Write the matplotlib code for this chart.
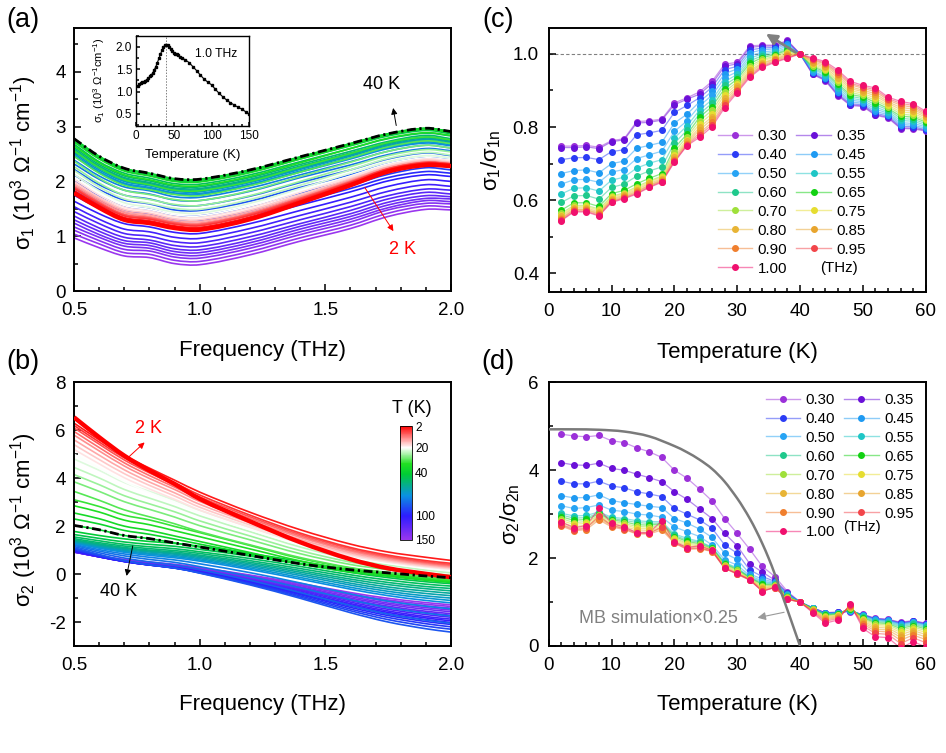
import numpy as np
import matplotlib
matplotlib.use('Agg')
import matplotlib.pyplot as plt
from matplotlib.colors import LinearSegmentedColormap, to_rgb
from matplotlib.lines import Line2D
from matplotlib.path import Path
from matplotlib.patches import PathPatch
import matplotlib.ticker as mt
from matplotlib.cm import ScalarMappable
from matplotlib.colors import Normalize

plt.rcParams['font.family'] = ['Liberation Sans', 'DejaVu Sans']
plt.rcParams['mathtext.fontset'] = 'custom'
plt.rcParams['mathtext.rm'] = 'Liberation Sans'
plt.rcParams['mathtext.it'] = 'Liberation Sans:italic'
plt.rcParams['mathtext.bf'] = 'Liberation Sans:bold'
plt.rcParams['axes.unicode_minus'] = False

# ---------------- data: panels (a), (b) ----------------
freq_nodes = [0.5, 0.6, 0.7, 0.8, 0.9, 1.0, 1.2, 1.4, 1.6, 1.75, 1.9, 2.0]
temps = [2, 4, 6, 8, 10, 12, 14, 16, 18, 20, 22, 24, 26, 28, 30, 32, 34, 36, 38, 40,
         42, 44, 46, 48, 50, 52, 54, 56, 58, 60, 65, 70, 75, 80, 85, 90, 95, 100,
         105, 110, 115, 120, 125, 130, 135, 140, 145, 150]

s1_002 = [1.79, 1.52, 1.30, 1.24, 1.15, 1.12, 1.31, 1.61, 1.93, 2.18, 2.30, 2.28]
s1_004 = [1.83, 1.56, 1.34, 1.28, 1.19, 1.16, 1.35, 1.65, 1.96, 2.21, 2.33, 2.30]
s1_006 = [1.87, 1.59, 1.37, 1.31, 1.22, 1.19, 1.38, 1.67, 1.98, 2.23, 2.34, 2.32]
s1_008 = [1.89, 1.61, 1.39, 1.33, 1.24, 1.21, 1.40, 1.69, 1.99, 2.23, 2.35, 2.32]
s1_010 = [1.90, 1.62, 1.40, 1.34, 1.25, 1.22, 1.41, 1.69, 2.00, 2.23, 2.35, 2.32]
s1_012 = [1.93, 1.65, 1.43, 1.36, 1.26, 1.24, 1.42, 1.71, 2.01, 2.24, 2.35, 2.32]
s1_014 = [1.96, 1.68, 1.46, 1.39, 1.29, 1.27, 1.45, 1.73, 2.03, 2.26, 2.37, 2.34]
s1_016 = [2.00, 1.71, 1.49, 1.42, 1.32, 1.30, 1.48, 1.76, 2.05, 2.27, 2.39, 2.35]
s1_018 = [2.04, 1.75, 1.53, 1.46, 1.36, 1.34, 1.52, 1.80, 2.08, 2.30, 2.41, 2.38]
s1_020 = [2.07, 1.78, 1.56, 1.49, 1.39, 1.37, 1.55, 1.82, 2.10, 2.32, 2.43, 2.39]
s1_022 = [2.13, 1.83, 1.61, 1.53, 1.44, 1.42, 1.60, 1.87, 2.15, 2.36, 2.47, 2.43]
s1_024 = [2.20, 1.90, 1.68, 1.60, 1.51, 1.49, 1.67, 1.93, 2.21, 2.42, 2.53, 2.48]
s1_026 = [2.27, 1.97, 1.75, 1.67, 1.58, 1.56, 1.74, 2.00, 2.27, 2.47, 2.58, 2.54]
s1_028 = [2.37, 2.06, 1.84, 1.76, 1.67, 1.65, 1.83, 2.09, 2.35, 2.55, 2.66, 2.61]
s1_030 = [2.46, 2.15, 1.93, 1.85, 1.76, 1.74, 1.92, 2.17, 2.43, 2.63, 2.74, 2.69]
s1_032 = [2.56, 2.25, 2.03, 1.94, 1.84, 1.83, 2.00, 2.26, 2.51, 2.71, 2.81, 2.76]
s1_034 = [2.65, 2.34, 2.12, 2.03, 1.93, 1.92, 2.09, 2.34, 2.60, 2.79, 2.89, 2.84]
s1_036 = [2.72, 2.41, 2.19, 2.10, 2.00, 1.99, 2.16, 2.41, 2.66, 2.85, 2.95, 2.89]
s1_038 = [2.77, 2.45, 2.23, 2.14, 2.04, 2.03, 2.20, 2.44, 2.69, 2.87, 2.97, 2.91]
s1_040 = [2.78, 2.46, 2.24, 2.15, 2.05, 2.04, 2.21, 2.45, 2.69, 2.87, 2.97, 2.91]
s1_042 = [2.77, 2.45, 2.23, 2.14, 2.04, 2.03, 2.20, 2.44, 2.68, 2.86, 2.96, 2.90]
s1_044 = [2.73, 2.42, 2.20, 2.11, 2.01, 2.00, 2.17, 2.41, 2.65, 2.83, 2.93, 2.87]
s1_046 = [2.68, 2.36, 2.15, 2.06, 1.96, 1.95, 2.12, 2.36, 2.60, 2.78, 2.88, 2.83]
s1_048 = [2.62, 2.31, 2.10, 2.01, 1.91, 1.90, 2.07, 2.31, 2.55, 2.73, 2.84, 2.78]
s1_050 = [2.59, 2.28, 2.07, 1.98, 1.88, 1.87, 2.04, 2.28, 2.52, 2.70, 2.81, 2.75]
s1_052 = [2.56, 2.26, 2.05, 1.96, 1.86, 1.85, 2.02, 2.26, 2.50, 2.69, 2.79, 2.73]
s1_054 = [2.54, 2.24, 2.02, 1.94, 1.84, 1.83, 2.00, 2.24, 2.48, 2.67, 2.77, 2.72]
s1_056 = [2.51, 2.21, 2.00, 1.92, 1.82, 1.81, 1.98, 2.22, 2.46, 2.65, 2.75, 2.70]
s1_058 = [2.48, 2.18, 1.97, 1.89, 1.79, 1.78, 1.95, 2.19, 2.43, 2.62, 2.72, 2.67]
s1_060 = [2.46, 2.16, 1.95, 1.87, 1.77, 1.76, 1.93, 2.17, 2.41, 2.60, 2.70, 2.65]
s1_065 = [2.39, 2.10, 1.90, 1.83, 1.72, 1.71, 1.88, 2.12, 2.36, 2.55, 2.66, 2.61]
s1_070 = [2.32, 2.04, 1.84, 1.77, 1.66, 1.65, 1.82, 2.07, 2.30, 2.49, 2.60, 2.56]
s1_075 = [2.22, 1.94, 1.75, 1.68, 1.57, 1.56, 1.73, 1.98, 2.21, 2.41, 2.52, 2.47]
s1_080 = [2.12, 1.85, 1.66, 1.59, 1.48, 1.47, 1.64, 1.89, 2.12, 2.32, 2.43, 2.39]
s1_085 = [2.01, 1.74, 1.55, 1.49, 1.38, 1.37, 1.54, 1.79, 2.02, 2.22, 2.33, 2.29]
s1_090 = [1.91, 1.65, 1.46, 1.40, 1.29, 1.28, 1.45, 1.70, 1.93, 2.13, 2.25, 2.21]
s1_095 = [1.83, 1.58, 1.39, 1.33, 1.23, 1.21, 1.39, 1.63, 1.87, 2.07, 2.18, 2.15]
s1_100 = [1.75, 1.51, 1.33, 1.27, 1.17, 1.15, 1.33, 1.57, 1.81, 2.01, 2.12, 2.09]
s1_105 = [1.64, 1.41, 1.23, 1.17, 1.07, 1.05, 1.23, 1.47, 1.71, 1.91, 2.03, 2.00]
s1_110 = [1.54, 1.31, 1.13, 1.08, 0.98, 0.96, 1.14, 1.38, 1.62, 1.82, 1.94, 1.91]
s1_115 = [1.45, 1.23, 1.05, 1.00, 0.90, 0.88, 1.06, 1.30, 1.54, 1.74, 1.86, 1.84]
s1_120 = [1.37, 1.15, 0.98, 0.93, 0.83, 0.81, 0.99, 1.23, 1.47, 1.68, 1.80, 1.77]
s1_125 = [1.30, 1.09, 0.92, 0.88, 0.77, 0.75, 0.93, 1.18, 1.41, 1.62, 1.74, 1.72]
s1_130 = [1.24, 1.03, 0.87, 0.83, 0.72, 0.70, 0.88, 1.13, 1.36, 1.57, 1.69, 1.68]
s1_135 = [1.17, 0.98, 0.82, 0.78, 0.67, 0.65, 0.83, 1.08, 1.31, 1.52, 1.65, 1.63]
s1_140 = [1.11, 0.92, 0.76, 0.73, 0.62, 0.60, 0.78, 1.03, 1.26, 1.48, 1.60, 1.59]
s1_145 = [1.04, 0.86, 0.70, 0.67, 0.56, 0.54, 0.72, 0.97, 1.20, 1.42, 1.55, 1.53]
s1_150 = [0.97, 0.79, 0.64, 0.61, 0.50, 0.48, 0.66, 0.91, 1.14, 1.36, 1.49, 1.48]

s2_002 = [6.54, 5.71, 4.94, 4.32, 3.76, 3.14, 2.20, 1.33, 0.62, 0.24, 0.01, -0.13]
s2_004 = [6.30, 5.60, 4.95, 4.42, 3.92, 3.42, 2.58, 1.85, 1.25, 0.92, 0.70, 0.57]
s2_006 = [6.20, 5.51, 4.85, 4.30, 3.81, 3.30, 2.46, 1.71, 1.11, 0.79, 0.56, 0.45]
s2_008 = [6.10, 5.42, 4.76, 4.22, 3.73, 3.22, 2.39, 1.65, 1.06, 0.74, 0.51, 0.40]
s2_010 = [5.95, 5.28, 4.64, 4.11, 3.63, 3.13, 2.32, 1.59, 1.00, 0.70, 0.47, 0.36]
s2_012 = [5.80, 5.14, 4.51, 3.99, 3.53, 3.03, 2.24, 1.53, 0.95, 0.65, 0.43, 0.32]
s2_014 = [5.60, 4.96, 4.35, 3.84, 3.39, 2.91, 2.14, 1.45, 0.89, 0.60, 0.39, 0.28]
s2_016 = [5.40, 4.78, 4.19, 3.70, 3.26, 2.79, 2.05, 1.38, 0.83, 0.55, 0.34, 0.24]
s2_018 = [5.20, 4.60, 4.02, 3.55, 3.12, 2.67, 1.95, 1.30, 0.77, 0.50, 0.30, 0.20]
s2_020 = [5.00, 4.42, 3.86, 3.40, 2.99, 2.55, 1.85, 1.22, 0.71, 0.44, 0.25, 0.15]
s2_022 = [4.80, 4.33, 3.82, 3.45, 3.08, 2.66, 1.96, 1.29, 0.75, 0.50, 0.27, 0.15]
s2_024 = [4.45, 4.01, 3.53, 3.17, 2.82, 2.43, 1.77, 1.13, 0.62, 0.38, 0.16, 0.05]
s2_026 = [4.15, 3.73, 3.27, 2.93, 2.60, 2.22, 1.59, 0.98, 0.50, 0.26, 0.05, -0.05]
s2_028 = [3.85, 3.45, 3.02, 2.70, 2.38, 2.02, 1.43, 0.85, 0.40, 0.18, -0.02, -0.12]
s2_030 = [3.45, 3.08, 2.68, 2.39, 2.10, 1.77, 1.22, 0.69, 0.27, 0.07, -0.11, -0.20]
s2_032 = [3.10, 2.82, 2.46, 2.26, 1.99, 1.73, 1.19, 0.65, 0.25, 0.05, -0.15, -0.25]
s2_034 = [2.85, 2.59, 2.25, 2.06, 1.81, 1.56, 1.05, 0.55, 0.17, -0.02, -0.21, -0.30]
s2_036 = [2.55, 2.31, 2.00, 1.82, 1.59, 1.36, 0.90, 0.43, 0.08, -0.09, -0.26, -0.35]
s2_038 = [2.30, 2.09, 1.82, 1.66, 1.46, 1.25, 0.85, 0.44, 0.13, -0.02, -0.17, -0.25]
s2_040 = [2.03, 1.85, 1.61, 1.48, 1.30, 1.13, 0.78, 0.43, 0.18, 0.05, -0.08, -0.15]
s2_042 = [1.78, 1.61, 1.47, 1.36, 1.28, 1.16, 0.86, 0.53, 0.18, -0.05, -0.22, -0.30]
s2_044 = [1.65, 1.49, 1.34, 1.24, 1.16, 1.03, 0.75, 0.42, 0.07, -0.15, -0.32, -0.40]
s2_046 = [1.55, 1.39, 1.24, 1.14, 1.06, 0.93, 0.65, 0.32, -0.03, -0.25, -0.42, -0.50]
s2_048 = [1.48, 1.31, 1.17, 1.06, 0.98, 0.86, 0.56, 0.23, -0.12, -0.35, -0.52, -0.60]
s2_050 = [1.43, 1.26, 1.11, 1.00, 0.92, 0.79, 0.49, 0.15, -0.21, -0.44, -0.61, -0.70]
s2_052 = [1.40, 1.22, 1.07, 0.96, 0.87, 0.74, 0.43, 0.08, -0.29, -0.54, -0.71, -0.80]
s2_054 = [1.37, 1.19, 1.03, 0.92, 0.83, 0.69, 0.37, 0.01, -0.38, -0.63, -0.81, -0.90]
s2_056 = [1.34, 1.15, 0.99, 0.87, 0.78, 0.64, 0.31, -0.06, -0.46, -0.72, -0.91, -1.00]
s2_058 = [1.31, 1.12, 0.95, 0.83, 0.73, 0.59, 0.25, -0.14, -0.55, -0.81, -1.00, -1.10]
s2_060 = [1.28, 1.08, 0.91, 0.78, 0.68, 0.54, 0.19, -0.21, -0.63, -0.90, -1.10, -1.20]
s2_065 = [1.24, 1.02, 0.84, 0.70, 0.59, 0.43, 0.06, -0.37, -0.83, -1.13, -1.34, -1.45]
s2_070 = [1.20, 0.96, 0.76, 0.61, 0.49, 0.31, -0.10, -0.57, -1.07, -1.40, -1.63, -1.75]
s2_075 = [1.15, 0.89, 0.67, 0.51, 0.38, 0.19, -0.26, -0.77, -1.31, -1.67, -1.92, -2.05]
s2_080 = [1.10, 0.82, 0.57, 0.40, 0.26, 0.04, -0.45, -1.01, -1.61, -2.00, -2.28, -2.42]
s2_085 = [1.06, 0.79, 0.56, 0.39, 0.25, 0.05, -0.42, -0.96, -1.53, -1.90, -2.17, -2.30]
s2_090 = [1.03, 0.77, 0.55, 0.38, 0.25, 0.06, -0.39, -0.91, -1.46, -1.81, -2.07, -2.20]
s2_095 = [1.00, 0.75, 0.53, 0.38, 0.26, 0.07, -0.36, -0.86, -1.39, -1.73, -1.98, -2.10]
s2_100 = [0.98, 0.74, 0.53, 0.38, 0.26, 0.08, -0.34, -0.82, -1.33, -1.66, -1.90, -2.02]
s2_105 = [0.96, 0.73, 0.52, 0.38, 0.26, 0.09, -0.32, -0.79, -1.28, -1.60, -1.83, -1.95]
s2_110 = [0.95, 0.72, 0.53, 0.38, 0.27, 0.10, -0.30, -0.75, -1.23, -1.54, -1.77, -1.88]
s2_115 = [0.94, 0.72, 0.53, 0.39, 0.28, 0.12, -0.27, -0.70, -1.17, -1.47, -1.69, -1.80]
s2_120 = [0.93, 0.72, 0.53, 0.40, 0.29, 0.13, -0.24, -0.66, -1.11, -1.40, -1.61, -1.72]
s2_125 = [0.93, 0.72, 0.54, 0.41, 0.31, 0.16, -0.21, -0.62, -1.06, -1.34, -1.55, -1.65]
s2_130 = [0.92, 0.72, 0.55, 0.42, 0.32, 0.17, -0.18, -0.57, -1.00, -1.27, -1.47, -1.57]
s2_135 = [0.92, 0.73, 0.56, 0.44, 0.34, 0.19, -0.14, -0.53, -0.94, -1.21, -1.40, -1.50]
s2_140 = [0.92, 0.73, 0.57, 0.45, 0.36, 0.22, -0.11, -0.48, -0.88, -1.14, -1.33, -1.42]
s2_145 = [0.93, 0.75, 0.59, 0.47, 0.38, 0.25, -0.07, -0.44, -0.83, -1.08, -1.26, -1.35]
s2_150 = [0.94, 0.76, 0.61, 0.50, 0.41, 0.27, -0.04, -0.39, -0.77, -1.01, -1.19, -1.28]

# inset: sigma1 at 1.0 THz vs temperature
inset_s1 = [1.12, 1.16, 1.19, 1.21, 1.22, 1.24, 1.27, 1.30, 1.34, 1.37, 1.42, 1.49, 1.56,
            1.65, 1.74, 1.83, 1.92, 1.99, 2.04, 2.05, 2.04, 2.00, 1.95, 1.90, 1.87, 1.85,
            1.83, 1.81, 1.78, 1.76, 1.71, 1.65, 1.56, 1.47, 1.37, 1.28, 1.21, 1.15, 1.05,
            0.96, 0.88, 0.81, 0.75, 0.70, 0.65, 0.61, 0.55, 0.50]

# ---------------- data: panels (c), (d) ----------------
T_cd = [2, 4, 6, 8, 10, 12, 14, 16, 18, 20, 22, 24, 26, 28, 30, 32, 34, 36, 38, 40,
        42, 44, 46, 48, 50, 52, 54, 56, 58, 60]
freq_labels = ['0.30', '0.35', '0.40', '0.45', '0.50', '0.55', '0.60', '0.65',
               '0.70', '0.75', '0.80', '0.85', '0.90', '0.95', '1.00']
freq_colors = ['#9b30d9', '#6a10d8', '#2b3cf5', '#1e9af2', '#27a4f4', '#1fc6c6',
               '#1fc98c', '#12d112', '#9fe03a', '#e6dd30', '#e8b435', '#e8a52e',
               '#f07f2e', '#f2454a', '#f0106e']

c030 = [.748, .748, .750, .745, .763, .768, .815, .817, .822, .866, .880, .896, .925, .972, .977, 1.022, 1.024, 1.024, 1.037, 1.0, .944, .927, .886, .859, .856, .832, .825, .796, .795, .789]
c035 = [.744, .744, .746, .741, .760, .765, .811, .813, .819, .861, .876, .890, .919, .966, .973, 1.018, 1.021, 1.022, 1.035, 1.0, .945, .929, .888, .861, .858, .834, .827, .798, .797, .791]
c040 = [.711, .716, .717, .711, .733, .738, .779, .784, .791, .840, .859, .880, .909, .957, .966, 1.011, 1.016, 1.018, 1.031, 1.0, .948, .931, .892, .864, .861, .838, .830, .802, .801, .793]
c045 = [.673, .681, .683, .675, .700, .707, .742, .750, .758, .811, .835, .869, .898, .946, .959, 1.003, 1.011, 1.014, 1.026, 1.0, .951, .935, .897, .869, .865, .843, .834, .807, .805, .797]
c050 = [.644, .656, .657, .649, .677, .684, .714, .724, .734, .788, .817, .858, .887, .935, .951, .995, 1.005, 1.009, 1.022, 1.0, .954, .938, .901, .874, .869, .849, .838, .812, .810, .801]
c055 = [.617, .633, .634, .625, .655, .663, .688, .701, .711, .770, .803, .846, .875, .924, .944, .988, 1.000, 1.005, 1.017, 1.0, .958, .943, .907, .879, .873, .855, .842, .818, .816, .805]
c060 = [.594, .612, .613, .603, .635, .644, .666, .680, .691, .756, .791, .836, .865, .915, .937, .981, .995, 1.001, 1.013, 1.0, .961, .947, .913, .884, .878, .861, .847, .824, .821, .810]
c065 = [.573, .593, .593, .583, .618, .627, .645, .660, .673, .743, .780, .827, .856, .905, .931, .974, .990, .998, 1.010, 1.0, .965, .951, .918, .889, .883, .867, .851, .830, .827, .814]
c070 = [.564, .586, .586, .576, .611, .620, .637, .653, .666, .733, .773, .817, .846, .896, .924, .967, .985, .994, 1.006, 1.0, .968, .955, .924, .895, .887, .873, .856, .836, .832, .818]
c075 = [.560, .582, .583, .572, .608, .617, .633, .650, .663, .725, .766, .808, .837, .888, .918, .961, .981, .991, 1.002, 1.0, .972, .959, .929, .900, .892, .879, .860, .842, .838, .822]
c080 = [.556, .579, .579, .568, .604, .614, .629, .646, .659, .719, .761, .799, .828, .879, .912, .955, .976, .987, .999, 1.0, .976, .963, .935, .905, .897, .885, .865, .848, .843, .827]
c085 = [.552, .575, .575, .565, .601, .611, .625, .642, .656, .714, .757, .792, .821, .872, .907, .950, .973, .985, .996, 1.0, .979, .968, .941, .910, .901, .891, .869, .854, .849, .831]
c090 = [.549, .573, .573, .562, .598, .608, .622, .640, .653, .710, .754, .784, .813, .865, .902, .945, .969, .982, .993, 1.0, .983, .972, .946, .916, .906, .897, .874, .860, .854, .835]
c095 = [.546, .570, .570, .559, .596, .606, .619, .637, .651, .706, .751, .778, .807, .859, .898, .940, .966, .979, .990, 1.0, .986, .975, .951, .920, .910, .902, .878, .865, .859, .839]
c100 = [.544, .568, .568, .557, .594, .604, .617, .635, .649, .704, .749, .772, .801, .853, .894, .936, .963, .977, .988, 1.0, .989, .979, .956, .925, .914, .907, .882, .870, .864, .843]

d030 = [4.82, 4.78, 4.76, 4.79, 4.67, 4.63, 4.51, 4.42, 4.29, 4.00, 3.82, 3.57, 3.30, 2.90, 2.56, 2.20, 1.81, 1.58, 1.24, 1.00, .870, .760, .770, .780, .720, .630, .610, .540, .580, .520]
d035 = [4.17, 4.12, 4.11, 4.16, 4.04, 4.00, 3.91, 3.83, 3.74, 3.51, 3.34, 3.12, 2.90, 2.56, 2.28, 1.87, 1.68, 1.50, 1.21, 1.00, .868, .755, .766, .789, .714, .622, .602, .528, .570, .509]
d040 = [3.75, 3.69, 3.69, 3.75, 3.64, 3.60, 3.51, 3.46, 3.40, 3.13, 3.00, 2.87, 2.68, 2.30, 2.11, 1.73, 1.58, 1.47, 1.20, 1.00, .866, .750, .763, .797, .707, .613, .593, .516, .561, .498]
d045 = [3.42, 3.37, 3.38, 3.44, 3.31, 3.26, 3.22, 3.18, 3.15, 2.90, 2.80, 2.66, 2.47, 2.11, 1.97, 1.64, 1.52, 1.45, 1.18, 1.00, .863, .746, .759, .807, .701, .605, .585, .505, .551, .488]
d050 = [3.19, 3.13, 3.15, 3.21, 3.09, 3.06, 3.00, 2.98, 2.93, 2.71, 2.60, 2.49, 2.30, 1.96, 1.84, 1.60, 1.48, 1.43, 1.17, 1.00, .860, .738, .754, .817, .691, .592, .572, .487, .537, .471]
d055 = [3.02, 2.96, 2.97, 3.05, 2.93, 2.90, 2.85, 2.83, 2.83, 2.55, 2.45, 2.38, 2.25, 1.90, 1.78, 1.57, 1.45, 1.42, 1.15, 1.00, .856, .729, .747, .829, .678, .575, .555, .463, .518, .450]
d060 = [2.98, 2.91, 2.92, 3.02, 2.90, 2.86, 2.81, 2.79, 2.80, 2.52, 2.41, 2.36, 2.24, 1.88, 1.76, 1.56, 1.42, 1.41, 1.14, 1.00, .850, .717, .738, .841, .662, .554, .534, .434, .494, .423]
d065 = [2.94, 2.86, 2.88, 3.00, 2.87, 2.83, 2.76, 2.75, 2.78, 2.49, 2.38, 2.33, 2.22, 1.86, 1.74, 1.55, 1.40, 1.39, 1.12, 1.00, .844, .702, .727, .853, .643, .529, .509, .398, .465, .390]
d070 = [2.90, 2.81, 2.83, 2.97, 2.84, 2.79, 2.72, 2.71, 2.75, 2.46, 2.34, 2.31, 2.21, 1.84, 1.72, 1.54, 1.37, 1.38, 1.11, 1.00, .836, .686, .714, .865, .621, .500, .480, .357, .431, .353]
d075 = [2.85, 2.77, 2.79, 2.95, 2.80, 2.76, 2.68, 2.67, 2.72, 2.43, 2.31, 2.28, 2.19, 1.83, 1.69, 1.53, 1.34, 1.37, 1.10, 1.00, .827, .666, .700, .877, .595, .466, .446, .310, .393, .309]
d080 = [2.81, 2.72, 2.74, 2.92, 2.77, 2.72, 2.64, 2.63, 2.69, 2.40, 2.27, 2.26, 2.18, 1.81, 1.67, 1.52, 1.31, 1.36, 1.09, 1.00, .817, .645, .684, .889, .566, .428, .408, .257, .350, .261]
d085 = [2.77, 2.67, 2.70, 2.90, 2.74, 2.69, 2.59, 2.59, 2.67, 2.37, 2.24, 2.23, 2.16, 1.79, 1.65, 1.51, 1.29, 1.34, 1.07, 1.00, .806, .621, .666, .902, .534, .386, .366, .198, .302, .207]
d090 = [2.73, 2.62, 2.65, 2.87, 2.71, 2.65, 2.55, 2.55, 2.64, 2.34, 2.20, 2.21, 2.15, 1.77, 1.63, 1.50, 1.26, 1.33, 1.06, 1.00, .794, .594, .646, .916, .499, .340, .320, .133, .249, .147]
d095 = [2.76, 2.64, 2.68, 2.96, 2.74, 2.67, 2.56, 2.56, 2.71, 2.35, 2.21, 2.23, 2.16, 1.77, 1.64, 1.50, 1.25, 1.33, 1.06, 1.00, .780, .563, .622, .931, .458, .286, .266, .056, .186, .077]
d100 = [2.82, 2.69, 2.74, 3.13, 2.79, 2.71, 2.58, 2.58, 2.85, 2.37, 2.24, 2.28, 2.18, 1.77, 1.65, 1.51, 1.24, 1.34, 1.07, 1.00, .760, .520, .590, .950, .400, .210, .190, -.050, .100, -.020]

mb_T = [0, 4, 8, 12, 16, 20, 22, 24, 26, 28, 30, 31, 32, 33, 34, 35, 36, 37, 38, 39, 40]
mb_v = [4.93, 4.93, 4.92, 4.88, 4.77, 4.55, 4.41, 4.24, 4.03, 3.74, 3.36, 3.14, 2.90,
        2.63, 2.33, 2.00, 1.63, 1.22, 0.82, 0.41, 0.0]

cbar_ticks_T = ['2', '20', '40', '100', '150']

s1_all = [s1_002, s1_004, s1_006, s1_008, s1_010, s1_012, s1_014, s1_016, s1_018, s1_020,
          s1_022, s1_024, s1_026, s1_028, s1_030, s1_032, s1_034, s1_036, s1_038, s1_040,
          s1_042, s1_044, s1_046, s1_048, s1_050, s1_052, s1_054, s1_056, s1_058, s1_060,
          s1_065, s1_070, s1_075, s1_080, s1_085, s1_090, s1_095, s1_100, s1_105, s1_110,
          s1_115, s1_120, s1_125, s1_130, s1_135, s1_140, s1_145, s1_150]
s2_all = [s2_002, s2_004, s2_006, s2_008, s2_010, s2_012, s2_014, s2_016, s2_018, s2_020,
          s2_022, s2_024, s2_026, s2_028, s2_030, s2_032, s2_034, s2_036, s2_038, s2_040,
          s2_042, s2_044, s2_046, s2_048, s2_050, s2_052, s2_054, s2_056, s2_058, s2_060,
          s2_065, s2_070, s2_075, s2_080, s2_085, s2_090, s2_095, s2_100, s2_105, s2_110,
          s2_115, s2_120, s2_125, s2_130, s2_135, s2_140, s2_145, s2_150]
c_all = [c030, c035, c040, c045, c050, c055, c060, c065, c070, c075, c080, c085, c090, c095, c100]
d_all = [d030, d035, d040, d045, d050, d055, d060, d065, d070, d075, d080, d085, d090, d095, d100]

# ---------------- figure ----------------
W, H = 946, 753
fig = plt.figure(figsize=(W / 100, H / 100), dpi=100)


def px_axes(l, t, r, b):
    return fig.add_axes([l / W, 1 - b / H, (r - l) / W, (b - t) / H])


ax_a = px_axes(74, 28, 451, 291)
ax_b = px_axes(74, 382.3, 451, 646)
ax_c = px_axes(548.7, 28.3, 925.7, 291.7)
ax_d = px_axes(548.7, 382.3, 925.7, 646)


def style(ax, xmaj, xmin, ymaj, ymin, lsize=13.5, padx=8, pady=6, lw=1.4, lmaj=5, lmin=2.8):
    ax.xaxis.set_major_locator(mt.MultipleLocator(xmaj))
    ax.xaxis.set_minor_locator(mt.MultipleLocator(xmin))
    ax.yaxis.set_major_locator(mt.MultipleLocator(ymaj))
    ax.yaxis.set_minor_locator(mt.MultipleLocator(ymin))
    ax.tick_params(which='both', direction='in', top=False, right=False,
                   labelsize=lsize, width=1.1)
    ax.tick_params(which='major', length=lmaj)
    ax.tick_params(which='minor', length=lmin)
    ax.tick_params(axis='x', pad=padx)
    ax.tick_params(axis='y', pad=pady)
    for s in ax.spines.values():
        s.set_linewidth(lw)


def smooth_line(ax, x, y, **kw):
    """Draw a smooth (cubic Bezier) line through the measured points."""
    x = np.asarray(x, float)
    y = np.asarray(y, float)
    n = len(x)
    m = np.empty(n)
    m[1:-1] = (y[2:] - y[:-2]) / (x[2:] - x[:-2])
    m[0] = (y[1] - y[0]) / (x[1] - x[0])
    m[-1] = (y[-1] - y[-2]) / (x[-1] - x[-2])
    verts = [(x[0], y[0])]
    codes = [Path.MOVETO]
    for i in range(n - 1):
        h = x[i + 1] - x[i]
        verts += [(x[i] + h / 3, y[i] + m[i] * h / 3),
                  (x[i + 1] - h / 3, y[i + 1] - m[i + 1] * h / 3),
                  (x[i + 1], y[i + 1])]
        codes += [Path.CURVE4] * 3
    ax.add_patch(PathPatch(Path(verts, codes), fill=False, capstyle='butt',
                           joinstyle='round', **kw))


tcmap = LinearSegmentedColormap.from_list(
    'tc', [(0.0, '#ff0000'), (0.19, '#ffffff'), (0.33, '#22e022'), (0.42, '#00cc33'),
           (0.61, '#0a92e0'), (0.79, '#2d1cff'), (1.0, '#9a36ee')])
nT = len(temps)
dashdot = (0, (3.2, 1.3, 0.8, 1.3))

# ---- (a) ----
for i in reversed(range(nT)):
    smooth_line(ax_a, freq_nodes, s1_all[i], edgecolor=tcmap(i / (nT - 1)), lw=1.2, zorder=2)
smooth_line(ax_a, freq_nodes, s1_002, edgecolor='#ff0000', lw=3.2, zorder=4)
smooth_line(ax_a, freq_nodes, s1_040, edgecolor='black', lw=2.0, linestyle=dashdot, zorder=5)
ax_a.set_xlim(0.5, 2.0)
ax_a.set_ylim(0, 4.8)
style(ax_a, 0.5, 0.1, 1, 0.5)
ax_a.set_xlabel('Frequency (THz)', fontsize=16)
ax_a.xaxis.set_label_coords(0.5, -0.186)
ax_a.set_ylabel('σ$_\\mathregular{1}$ (10$^\\mathregular{3}$ Ω$^\\mathregular{-1}$ cm$^\\mathregular{-1}$)', fontsize=16)
ax_a.yaxis.set_label_coords(-0.094, 0.49)
ax_a.text(1.724, 3.76, '40 K', fontsize=13, ha='center', va='center', color='black')
ax_a.annotate('', xy=(1.768, 3.39), xytext=(1.784, 2.97),
              arrowprops=dict(arrowstyle='-|>', color='black', lw=0.7, mutation_scale=9))
ax_a.text(1.807, 0.75, '2 K', fontsize=13, ha='center', va='center', color='#ff0000')
ax_a.annotate('', xy=(1.777, 1.05), xytext=(1.651, 1.93),
              arrowprops=dict(arrowstyle='-|>', color='#ff0000', lw=0.7, mutation_scale=9))

# inset
ax_in = px_axes(136.3, 35.7, 249.3, 126)
ax_in.plot(temps, inset_s1, color='black', lw=0.8, marker='s', ms=2.0, zorder=3)
ax_in.axvline(40, color='gray', lw=0.7, ls=(0, (1.5, 1.5)), zorder=1)
ax_in.set_xlim(0, 150)
ax_in.set_ylim(0.23, 2.25)
style(ax_in, 50, 10, 0.5, 0.25, lsize=8.5, padx=3, pady=3, lw=1.0, lmaj=3, lmin=1.8)
ax_in.set_xlabel('Temperature (K)', fontsize=9.5)
ax_in.xaxis.set_label_coords(0.5, -0.25)
ax_in.set_ylabel('σ$_\\mathregular{1}$ (10$^\\mathregular{3}$ Ω$^\\mathregular{-1}$cm$^\\mathregular{-1}$)', fontsize=8)
ax_in.yaxis.set_label_coords(-0.26, 0.51)
ax_in.text(105.8, 1.85, '1.0 THz', fontsize=8.7, ha='center', va='center')

# ---- (b) ----
for i in reversed(range(nT)):
    smooth_line(ax_b, freq_nodes, s2_all[i], edgecolor=tcmap(i / (nT - 1)), lw=1.2, zorder=2)
smooth_line(ax_b, freq_nodes, s2_002, edgecolor='#ff0000', lw=3.2, zorder=4)
smooth_line(ax_b, freq_nodes, s2_040, edgecolor='black', lw=2.0, linestyle=dashdot, zorder=5)
ax_b.set_xlim(0.5, 2.0)
ax_b.set_ylim(-3, 8)
style(ax_b, 0.5, 0.1, 2, 1)
ax_b.set_xlabel('Frequency (THz)', fontsize=16)
ax_b.xaxis.set_label_coords(0.5, -0.182)
ax_b.set_ylabel('σ$_\\mathregular{2}$ (10$^\\mathregular{3}$ Ω$^\\mathregular{-1}$ cm$^\\mathregular{-1}$)', fontsize=16)
ax_b.yaxis.set_label_coords(-0.094, 0.48)
ax_b.text(0.798, 6.09, '2 K', fontsize=13, ha='center', va='center', color='#ff0000')
ax_b.annotate('', xy=(0.789, 5.57), xytext=(0.71, 4.81),
              arrowprops=dict(arrowstyle='-|>', color='#ff0000', lw=0.7, mutation_scale=9))
ax_b.text(0.677, -0.74, '40 K', fontsize=13, ha='center', va='center', color='black')
ax_b.annotate('', xy=(0.707, -0.19), xytext=(0.736, 1.29),
              arrowprops=dict(arrowstyle='-|>', color='black', lw=0.7, mutation_scale=9))

cax = px_axes(400, 426, 412.3, 540)
sm = ScalarMappable(norm=Normalize(0, nT - 1), cmap=tcmap)
cb = fig.colorbar(sm, cax=cax)
cax.invert_yaxis()
cb.set_ticks([0, 9, 19, 37, 47])
cb.set_ticklabels(cbar_ticks_T)
cax.tick_params(labelsize=8.6, length=0, pad=2)
cb.outline.set_linewidth(0.6)
fig.text(412 / W, 1 - 408.5 / H, 'T (K)', fontsize=13, ha='center', va='center')

# ---- (c) ----
handles = []
for k in range(len(c_all)):
    col = freq_colors[k]
    lc = to_rgb(col) + (0.5,)
    ax_c.plot(T_cd, c_all[k], color=lc, lw=0.9, zorder=2)
    ax_c.plot(T_cd, c_all[k], ls='none', marker='o', ms=4, mfc=col, mec=col, zorder=3)
    handles.append(Line2D([], [], color=lc, lw=1.0, marker='o', ms=4, mfc=col, mec=col))
ax_c.axhline(1.0, color='gray', lw=0.8, ls=(0, (3, 2)), zorder=1)
ax_c.annotate('', xy=(34.2, 1.059), xytext=(39.7, 1.0),
              arrowprops=dict(arrowstyle='-|>', color='#808080', lw=2.0, mutation_scale=16))
ax_c.set_xlim(0, 60)
ax_c.set_ylim(0.35, 1.07)
style(ax_c, 10, 2, 0.2, 0.1, pady=7)
ax_c.set_xlabel('Temperature (K)', fontsize=16)
ax_c.xaxis.set_label_coords(0.5, -0.19)
ax_c.set_ylabel('σ$_\\mathregular{1}$/σ$_\\mathregular{1n}$', fontsize=16)
ax_c.yaxis.set_label_coords(-0.121, 0.5)

order = [0, 2, 4, 6, 8, 10, 12, 14, 1, 3, 5, 7, 9, 11, 13]
leg_kw = dict(loc='upper left', ncol=2, frameon=False, fontsize=10.8, handlelength=2.3,
              handletextpad=0.35, columnspacing=0.6, labelspacing=0.33, borderpad=0,
              borderaxespad=0, numpoints=1)
ax_c.legend([handles[i] for i in order], [freq_labels[i] for i in order],
            bbox_to_anchor=(0.449, 0.618), **leg_kw)
ax_c.text(0.721, 0.091, '(THz)', transform=ax_c.transAxes, fontsize=10.8, ha='left', va='center')

# ---- (d) ----
for k in range(len(d_all)):
    col = freq_colors[k]
    lc = to_rgb(col) + (0.5,)
    ax_d.plot(T_cd, d_all[k], color=lc, lw=0.9, zorder=2)
    ax_d.plot(T_cd, d_all[k], ls='none', marker='o', ms=4, mfc=col, mec=col, zorder=3)
smooth_line(ax_d, mb_T, mb_v, edgecolor='#7a7a7a', lw=1.8, zorder=4)
ax_d.text(4.87, 0.63, 'MB simulation×0.25', fontsize=13, color='#808080', ha='left', va='center')
ax_d.annotate('', xy=(32.8, 0.63), xytext=(37.9, 0.78),
              arrowprops=dict(arrowstyle='-|>', color='#9a9a9a', lw=0.8, mutation_scale=12))
ax_d.set_xlim(0, 60)
ax_d.set_ylim(0, 6)
style(ax_d, 10, 2, 2, 1, pady=7)
ax_d.set_xlabel('Temperature (K)', fontsize=16)
ax_d.xaxis.set_label_coords(0.5, -0.182)
ax_d.set_ylabel('σ$_\\mathregular{2}$/σ$_\\mathregular{2n}$', fontsize=16)
ax_d.yaxis.set_label_coords(-0.07, 0.5)
ax_d.legend([handles[i] for i in order], [freq_labels[i] for i in order],
            bbox_to_anchor=(0.576, 0.96), **leg_kw)
ax_d.text(0.78, 0.452, '(THz)', transform=ax_d.transAxes, fontsize=10.8, ha='left', va='center')

# panel labels
for lab, x, y in [('(a)', 23, 20), ('(b)', 23, 362), ('(c)', 498, 20), ('(d)', 498, 362)]:
    fig.text(x / W, 1 - y / H, lab, fontsize=19.5, ha='center', va='center')

fig.savefig('out.png', dpi=100)
